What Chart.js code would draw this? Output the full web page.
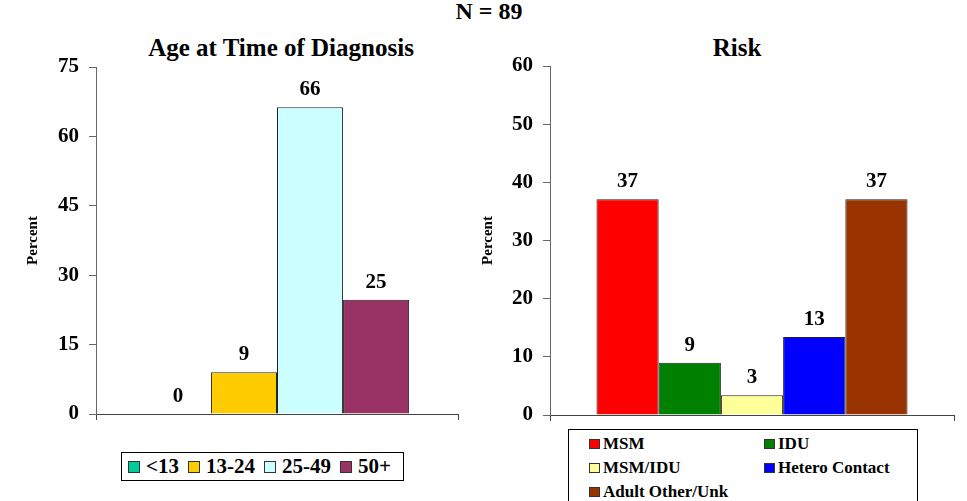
<!DOCTYPE html>
<html lang="en">
<head>
<meta charset="UTF-8">
<title>N = 89</title>
<script src="https://cdn.jsdelivr.net/npm/chart.js"></script>
<style>
  body { margin: 0; background: #fff; font-family: "Liberation Serif", "Times New Roman", serif; font-weight: bold; }
  #page { position: relative; width: 967px; height: 501px; overflow: hidden; }
  .ttl { position: absolute; text-align: center; white-space: nowrap; }
  canvas { position: absolute; }
  .legend { position: absolute; border: 1px solid #000; box-sizing: border-box; background: #fff; }
  .sw { display: inline-block; border: 1px solid #333; box-sizing: border-box; }
  #ageLegend { left: 121px; top: 452px; width: 283px; height: 29px; display: flex; align-items: center; padding-left: 6px; font-size: 21px; }
  #ageLegend .item { display: flex; align-items: center; margin-right: 9px; }
  #ageLegend .sw { width: 12px; height: 12px; margin-right: 6px; }
  #riskLegend { left: 568px; top: 429px; width: 350px; height: 90px; padding: 2px 0 0 20px; font-size: 17px;
    display: grid; grid-template-columns: 175px 150px; grid-auto-rows: 24px; }
  #riskLegend .item { display: flex; align-items: center; }
  #riskLegend .sw { width: 11px; height: 10px; margin-right: 3px; }
</style>
</head>
<body>
<div id="page">
  <div class="ttl" style="left:389px; width:200px; top:-1px; font-size:24px; line-height:24px;">N = 89</div>
  <div class="ttl" style="left:131px; width:300px; top:35px; font-size:25px; line-height:25px;">Age at Time of Diagnosis</div>
  <div class="ttl" style="left:637px; width:200px; top:35px; font-size:25px; line-height:25px;">Risk</div>
  <canvas id="ageChart" style="left:0; top:0;"></canvas>
  <canvas id="riskChart" style="left:470px; top:0;"></canvas>
  <div id="ageLegend" class="legend"></div>
  <div id="riskLegend" class="legend"></div>
</div>
<script>
// Age at time of diagnosis (percent of 89 cases)
const ageGroups = ['<13', '13-24', '25-49', '50+'];
const agePercent = [0, 9.0, 66.3, 24.7];
const ageColors = ['#00CC99', '#FFCC00', '#CCFFFF', '#993366'];
const ageTicks = [0, 15, 30, 45, 60, 75];

// Risk (percent of 89 cases)
const riskGroups = ['MSM', 'IDU', 'MSM/IDU', 'Hetero Contact', 'Adult Other/Unk'];
const riskPercent = [37.1, 9.0, 3.4, 13.4, 37.1];
const riskColors = ['#FF0000', '#008000', '#FFFF99', '#0000FF', '#993300'];
const riskTicks = [0, 10, 20, 30, 40, 50, 60];

const FONT = '"Liberation Serif", "Times New Roman", serif';

// value labels above each bar
const barLabels = {
    id: 'barLabels',
    afterDatasetsDraw(chart) {
        const ctx = chart.ctx;
        ctx.save();
        ctx.font = 'bold 21px ' + FONT;
        ctx.fillStyle = '#000';
        ctx.textAlign = 'center';
        ctx.textBaseline = 'bottom';
        chart.data.datasets.forEach((ds, i) => {
            const bar = chart.getDatasetMeta(i).data[0];
            ctx.fillText(Math.round(ds.data[0]), bar.x, bar.y - 7);
        });
        ctx.restore();
    }
};

function makeChart(id, w, h, groups, values, colors, ticks, axisW, pad, catPct, titlePad) {
    const el = document.getElementById(id);
    el.style.width = w + 'px';
    el.style.height = h + 'px';
    el.width = w;
    el.height = h;
    return new Chart(el, {
        type: 'bar',
        data: {
            labels: [''],
            datasets: groups.map((g, i) => ({
                label: g,
                data: [values[i]],
                backgroundColor: colors[i],
                borderColor: '#222',
                borderWidth: 1,
                borderSkipped: 'bottom',
                categoryPercentage: catPct,
                barPercentage: 1
            }))
        },
        options: {
            responsive: false,
            animation: false,
            devicePixelRatio: 1,
            layout: { padding: pad },
            plugins: { legend: { display: false }, tooltip: { enabled: false } },
            scales: {
                x: {
                    ticks: { display: false },
                    grid: { drawOnChartArea: false, drawTicks: true, tickLength: 6, color: '#444' },
                    border: { color: '#444', width: 1 },
                    afterFit: s => { s.height = 6; }
                },
                y: {
                    min: ticks[0],
                    max: ticks[ticks.length - 1],
                    afterBuildTicks: s => { s.ticks = ticks.map(v => ({ value: v })); },
                    ticks: { color: '#000', padding: 10, font: { family: FONT, size: 21, weight: 'bold' } },
                    grid: { drawOnChartArea: false, drawTicks: true, tickLength: 7, color: '#666' },
                    border: { color: '#666', width: 1 },
                    title: { display: true, text: 'Percent', color: '#000',
                        padding: { top: titlePad, bottom: 0 },
                        font: { family: FONT, size: 15, weight: 'bold' } },
                    afterFit: s => { s.width = axisW; }
                }
            }
        },
        plugins: [barLabels]
    });
}

makeChart('ageChart', 470, 446, ageGroups, agePercent, ageColors, ageTicks, 96,
    { top: 67, right: 12, bottom: 26, left: 0 }, 0.73, 24);
makeChart('riskChart', 497, 446, riskGroups, riskPercent, riskColors, riskTicks, 80,
    { top: 66, right: 13, bottom: 25, left: 0 }, 0.77, 9);

function buildLegend(id, groups, colors) {
    const box = document.getElementById(id);
    groups.forEach((g, i) => {
        const item = document.createElement('div');
        item.className = 'item';
        const sw = document.createElement('span');
        sw.className = 'sw';
        sw.style.background = colors[i];
        item.appendChild(sw);
        item.appendChild(document.createTextNode(g));
        box.appendChild(item);
    });
}
buildLegend('ageLegend', ageGroups, ageColors);
buildLegend('riskLegend', riskGroups, riskColors);
</script>
</body>
</html>
